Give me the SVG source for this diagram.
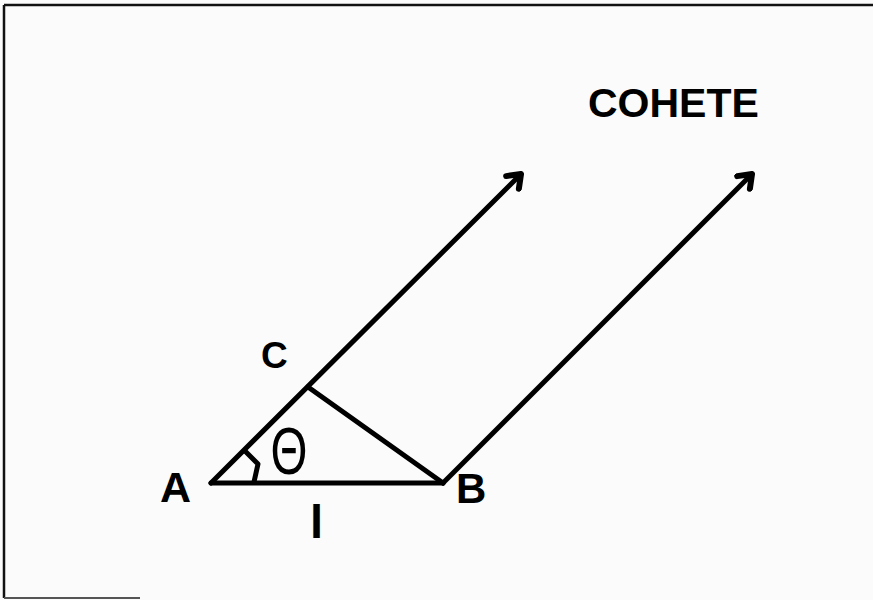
<svg xmlns="http://www.w3.org/2000/svg" width="873" height="600" viewBox="0 0 873 600">
<style>
.lbl{font-family:"Liberation Sans",Arial,sans-serif;font-weight:bold;fill:#000}
.ln{stroke:#000;stroke-width:5;fill:none;stroke-linecap:round;stroke-linejoin:round}
.frame{stroke:#111;stroke-width:2.5;fill:none}
</style>
<defs>
<marker id="arr" viewBox="-20 -12 24 24" markerWidth="24" markerHeight="24" refX="0" refY="0" orient="auto" markerUnits="userSpaceOnUse">
<path d="M-12,-9 L0,0 L-12,9" fill="none" stroke="#000" stroke-width="6" stroke-linecap="round" stroke-linejoin="round"/>
</marker>
</defs>
<rect x="0" y="0" width="873" height="600" fill="#fbfbfb"/>
<g id="frame">
<line class="frame" x1="4" y1="5" x2="873" y2="5"/>
<line class="frame" x1="4" y1="5" x2="4" y2="598"/>
<line x1="4" y1="598" x2="140" y2="598" stroke="#555" stroke-width="2"/>
</g>
<g id="connectors">
<line class="ln" x1="211" y1="483" x2="521" y2="174" marker-end="url(#arr)"/>
<line class="ln" x1="443" y1="483" x2="752" y2="174" marker-end="url(#arr)"/>
<line class="ln" x1="211" y1="483" x2="443" y2="483"/>
<line class="ln" x1="308" y1="387" x2="443" y2="483"/>
<path class="ln" d="M245,451 L258,464 L254,482" stroke-width="3"/>
</g>
<g id="theta"><text x="289" y="474" font-family="Liberation Sans,Arial,sans-serif" font-size="66" text-anchor="middle" transform="translate(289,0) scale(0.72,1) translate(-289,0)">Θ</text></g>
<g id="A"><text class="lbl" x="160" y="502" font-size="43">A</text></g>
<g id="B"><text class="lbl" x="456" y="503" font-size="42">B</text></g>
<g id="C"><text class="lbl" x="261" y="368" font-size="37">C</text></g>
<g id="l"><text class="lbl" x="310" y="538" font-size="47">l</text></g>
<g id="cohete"><text class="lbl" x="588" y="117" font-size="41">COHETE</text></g>
</svg>
